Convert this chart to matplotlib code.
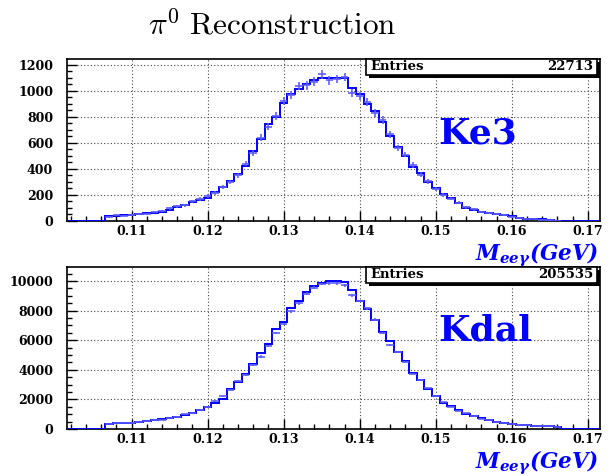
import numpy as np
import matplotlib
matplotlib.use('Agg')
import matplotlib.pyplot as plt
from matplotlib.patches import Rectangle
from matplotlib.ticker import MultipleLocator, FormatStrFormatter

plt.rcParams['mathtext.fontset'] = 'custom'
plt.rcParams['mathtext.it'] = 'DejaVu Serif:italic:bold'
plt.rcParams['mathtext.rm'] = 'DejaVu Serif:italic:bold'
plt.rcParams['mathtext.bf'] = 'DejaVu Serif:italic:bold'

# 1 MeV bins, 106.5 - 166.5 MeV
edges = np.round(np.arange(0.1065, 0.16651, 0.001), 4)
xmin, xmax = 0.1015, 0.1716

# Ke3 sample: histogram (mc) and measured points (data)
ke3_mc = [38, 40, 43, 48, 52, 58, 64, 72, 85, 105,
          125, 148, 162, 180, 225, 258, 305, 360, 425, 540,
          630, 742, 800, 905, 975, 1010, 1055, 1080, 1095, 1100,
          1100, 1100, 1020, 975, 900, 845, 762, 652, 570, 495,
          418, 368, 298, 252, 205, 175, 137, 103, 86, 72,
          58, 50, 45, 35, 23, 18, 15, 12, 7, 3]
ke3_data = [30, 45, 42, 47, 56, 55, 70, 75, 97, 112,
            122, 150, 168, 190, 215, 262, 300, 350, 440, 525,
            640, 725, 805, 920, 965, 1035, 1040, 1070, 1125, 1080,
            1090, 1105, 985, 960, 910, 830, 775, 665, 560, 510,
            430, 355, 305, 245, 200, 172, 140, 104, 90, 70,
            62, 52, 46, 30, 25, 17, 14, 10, 6, 2]
ke3_entries = 22713

# Kdal sample
kdal_mc = [360, 380, 400, 430, 470, 520, 580, 650, 720, 800,
           950, 1100, 1260, 1480, 1750, 2050, 2730, 3180, 3700, 4360,
           5110, 5750, 6740, 7220, 8170, 8620, 9240, 9650, 9900, 9980,
           9990, 9950, 9420, 8670, 8100, 7380, 6580, 5950, 5220, 4610,
           3800, 3300, 2730, 2210, 1750, 1530, 1260, 1030, 850, 710,
           580, 490, 400, 350, 300, 250, 220, 200, 170, 150]
kdal_data = [340, 400, 410, 420, 480, 510, 600, 640, 740, 820,
             1000, 1080, 1300, 1500, 1900, 2200, 2650, 3250, 3650, 4300,
             4900, 5600, 6500, 7100, 7950, 8500, 9150, 9550, 9800, 9850,
             9850, 9700, 9050, 8650, 8150, 7400, 6500, 5700, 5200, 4550,
             3750, 3300, 2750, 2200, 1800, 1500, 1250, 1050, 850, 700,
             600, 480, 410, 350, 290, 260, 220, 190, 175, 145]
kdal_entries = 205535

W, H = 613, 476
fig = plt.figure(figsize=(W / 100, H / 100), dpi=100)

tick_font = dict(family='DejaVu Serif', weight='bold', size=9)


def px(x0, y0, x1, y1):
    # pixel box -> figure fraction rect
    return [x0 / W, 1 - y1 / H, (x1 - x0) / W, (y1 - y0) / H]


def stats_box(top, entries):
    x0, x1 = 366, 597
    y0, y1 = top, top + 16
    shadow = Rectangle((x0 / W + 2.5 / W, 1 - y1 / H - 2.5 / H), (x1 - x0) / W, (y1 - y0) / H,
                       transform=fig.transFigure, facecolor='black', edgecolor='black', lw=0, zorder=10)
    box = Rectangle((x0 / W, 1 - y1 / H), (x1 - x0) / W, (y1 - y0) / H,
                    transform=fig.transFigure, facecolor='white', edgecolor='black', lw=1.2, zorder=11)
    fig.patches.extend([shadow, box])
    yc = 1 - (y0 + y1) / 2 / H
    fig.text((x0 + 4) / W, yc, 'Entries', ha='left', va='center', zorder=12,
             family='DejaVu Serif', weight='bold', size=9.5)
    fig.text((x1 - 4) / W, yc, str(entries), ha='right', va='center', zorder=12,
             family='DejaVu Serif', weight='bold', size=9.5)


def panel(rect, mc, data, ymax, ymaj, ymin, name, name_y, label_base, entries):
    ax = fig.add_axes(rect)
    full_edges = np.concatenate([[xmin], edges, [xmax]])
    ax.stairs(np.concatenate([[0], mc, [0]]), full_edges, color='#0000ff', lw=1.4, zorder=3)
    centers = 0.5 * (edges[1:] + edges[:-1])
    data = np.array(data, dtype=float)
    ax.errorbar(centers, data, xerr=0.0005, yerr=np.sqrt(data), fmt='none',
                ecolor='#5c5cff', elinewidth=1.3, alpha=0.9, zorder=4)
    ax.set_xlim(xmin, xmax)
    ax.set_ylim(0, ymax)
    ax.xaxis.set_major_locator(MultipleLocator(0.01))
    ax.xaxis.set_minor_locator(MultipleLocator(0.002))
    ax.xaxis.set_major_formatter(FormatStrFormatter('%.2f'))
    ax.yaxis.set_major_locator(MultipleLocator(ymaj))
    ax.yaxis.set_minor_locator(MultipleLocator(ymin))
    ax.tick_params(which='both', direction='in', top=False, right=False, width=1.0)
    ax.tick_params(which='major', length=7)
    ax.tick_params(which='minor', length=3.5)
    ax.tick_params(axis='y', pad=10)
    ax.tick_params(axis='x', pad=3)
    for lab in ax.get_xticklabels() + ax.get_yticklabels():
        lab.set(**tick_font)
    ax.grid(True, which='major', ls=(0, (1, 2)), color='#444444', lw=0.8)
    for s in ax.spines.values():
        s.set_linewidth(1.2)
    ax.text(0.696, name_y, name, transform=ax.transAxes, ha='left', va='baseline',
            color='#0000ff', family='DejaVu Serif', weight='bold', size=26)
    fig.text(599 / W, 1 - label_base / H, r'$M_{ee\gamma}(GeV)$', ha='right', va='baseline',
             color='#0000ff', size=15.5)
    return ax


panel(px(67, 59, 600, 221), ke3_mc, ke3_data, 1243, 200, 50, 'Ke3', 0.481, 260, ke3_entries)
stats_box(59, ke3_entries)
panel(px(67, 267, 600, 429), kdal_mc, kdal_data, 10950, 2000, 500, 'Kdal', 0.549, 468, kdal_entries)
stats_box(267, kdal_entries)

fig.text(272 / W, 1 - 35 / H, r'$\pi^0\ \mathrm{Reconstruction}$', math_fontfamily='cm',
         ha='center', va='baseline', size=22.5)

fig.savefig('out.png', dpi=100, facecolor='white')
